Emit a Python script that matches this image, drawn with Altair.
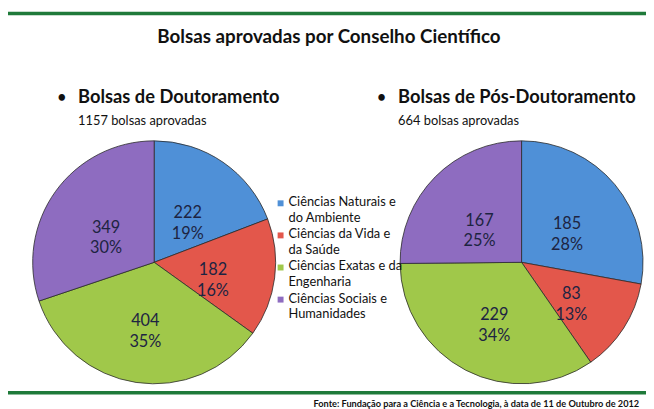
import altair as alt
import pandas as pd

# ---- data ----
categories = [
    "Ciências Naturais e do Ambiente",
    "Ciências da Vida e da Saúde",
    "Ciências Exatas e da Engenharia",
    "Ciências  Sociais e Humanidades",
]
legend_labels = [
    "Ciências Naturais e\ndo Ambiente",
    "Ciências da Vida e\nda Saúde",
    "Ciências Exatas e da\nEngenharia",
    "Ciências  Sociais e\nHumanidades",
]
doutoramento = [222, 182, 404, 349]
pos_doutoramento = [185, 83, 229, 167]
colors = ["#4f90d7", "#e3574b", "#a0c84a", "#8e6cc0"]

title = "Bolsas aprovadas por Conselho Científico"
left_head = "Bolsas de Doutoramento"
right_head = "Bolsas de Pós-Doutoramento"
left_sub = "1157 bolsas aprovadas"
right_sub = "664 bolsas aprovadas"
footer = "Fonte: Fundação para a Ciência e a Tecnologia, à data de 11 de Outubro de 2012"

FONT = "Lato"
W, H = 646, 401


def pie_frame(values):
    total = sum(values)
    return pd.DataFrame({
        "cat": categories,
        "value": values,
        "idx": list(range(len(values))),
        "label": [f"{v}\n{int(v / total * 100 + 0.5)}%" for v in values],
    })


color_scale = alt.Scale(domain=categories, range=colors)


def pie(values, cx, cy, r):
    df = pie_frame(values)
    base = alt.Chart(df).encode(
        theta=alt.Theta("value:Q", stack=True),
        order=alt.Order("idx:Q"),
        x=alt.value(cx),
        y=alt.value(cy),
    )
    arcs = base.mark_arc(outerRadius=r, stroke="#2a2a2a", strokeWidth=0.8).encode(
        color=alt.Color("cat:N", scale=color_scale, legend=None)
    )
    labels = base.mark_text(
        radius=60, lineBreak="\n", font=FONT, fontSize=16.5, color="#1d2442",
        align="center", baseline="middle", lineHeight=21,
    ).encode(text="label:N")
    return arcs, labels


def txt(s, x, y, size, bold=False, align="left", baseline="middle", color="#111111"):
    return alt.Chart(pd.DataFrame({"t": [s]})).mark_text(
        font=FONT, fontSize=size, fontWeight="bold" if bold else "normal",
        align=align, baseline=baseline, color=color,
    ).encode(text="t:N", x=alt.value(x), y=alt.value(y))


def hline(y, width):
    return alt.Chart(pd.DataFrame({"a": [0]})).mark_rule(
        color="#1f7a3a", strokeWidth=width
    ).encode(x=alt.value(0), x2=alt.value(W), y=alt.value(y))


la, ll = pie(doutoramento, 148, 255, 123)
ra, rl = pie(pos_doutoramento, 520, 255, 123)

leg_df = pd.DataFrame({"cat": categories, "lab": legend_labels})
leg_y = alt.Y("cat:N", scale=alt.Scale(domain=categories, range=[172, 302]), axis=None)
leg_sq = alt.Chart(leg_df).mark_square(size=36, yOffset=7, opacity=1).encode(
    x=alt.value(276), y=leg_y,
    color=alt.Color("cat:N", scale=color_scale, legend=None),
)
leg_tx = alt.Chart(leg_df).mark_text(
    font=FONT, fontSize=13, align="left", baseline="top", lineBreak="\n",
    lineHeight=16, color="#111111",
).encode(x=alt.value(284), y=leg_y, text="lab:N")

chart = alt.layer(
    hline(3, 3.5),
    hline(387, 3.5),
    txt(title, 325, 27, 19, bold=True, align="center"),
    txt("•", 50, 88, 15, bold=True),
    txt(left_head, 71, 88, 18.5, bold=True),
    txt(left_sub, 71, 112, 13),
    txt("•", 374, 88, 15, bold=True),
    txt(right_head, 395, 88, 18.5, bold=True),
    txt(right_sub, 395, 112, 13),
    la, ll, ra, rl,
    leg_sq, leg_tx,
    txt(footer, 639, 394, 9.3, bold=True, align="right", baseline="top"),
).resolve_scale(theta="independent").properties(
    width=W, height=H, autosize=alt.AutoSizeParams(type="none"), padding=0,
    background="white",
).configure_view(stroke=None)

chart.save("out.html", embed_options={"renderer": "svg", "actions": False})
